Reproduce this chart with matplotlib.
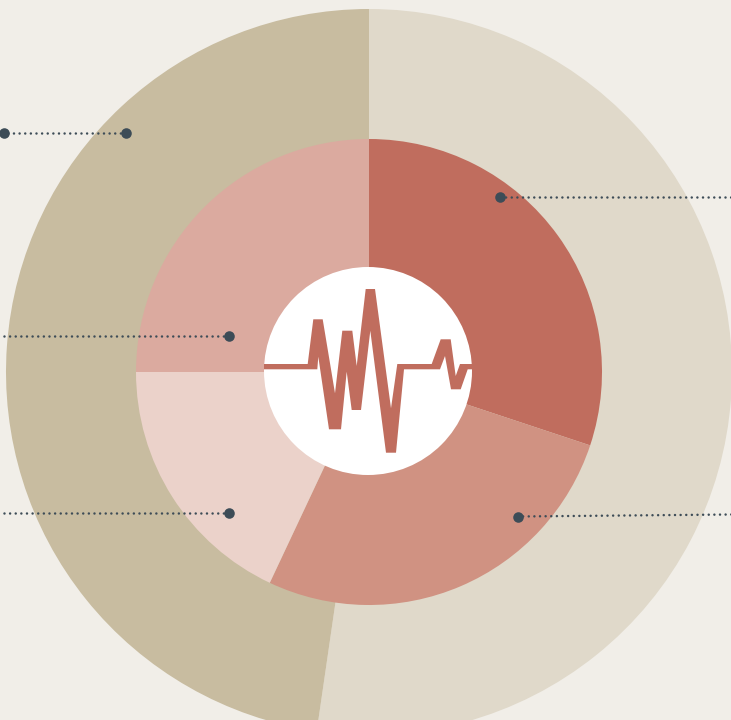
import matplotlib
matplotlib.use("Agg")
import matplotlib.pyplot as plt
from matplotlib.patches import Circle, Polygon

# shares, clockwise from 12 o'clock
outer_values = [52.3, 47.7]
outer_colors = ["#E0D9CA", "#C8BCA0"]
inner_values = [30.1, 26.9, 18.0, 25.0]
inner_colors = ["#C06D5E", "#D09282", "#EBD2CA", "#DBAA9F"]

# leader lines in image pixels: x0, y0, x1, y1
leader_x0 = [125.5, 228.5, 228.5, 499.5, 517.5]
leader_y0 = [132.5, 335.5, 513, 196.5, 516.5]
leader_x1 = [3.5, -12, -12, 741, 741]
leader_y1 = [132.5, 335.5, 513, 196.5, 514.4]
leader_end_dot = [True, False, False, False, False]

# heartbeat outline
pulse_x = [264, 307.7, 313.3, 322.7, 335, 342.3, 352.3, 356.7, 365.7, 375, 391, 397.3,
           431.7, 440.7, 450.7, 455.7, 460, 472.3, 472.3, 467.7, 460.7, 451, 445,
           440, 404, 396, 386, 370.3, 361, 351.7, 346.7, 341, 329, 318.3, 317.3, 264]
pulse_y = [364, 364, 319.3, 319.3, 393.3, 330.7, 330.7, 366, 289, 289, 408.3, 364,
           364, 339.3, 339.3, 376, 364, 364, 369.3, 369.3, 389.3, 389.3, 356,
           369.3, 369.3, 452.7, 452.7, 330.7, 410, 410, 371.7, 429.3, 429.3, 356.7, 369.3, 369.3]

CENTER = (369, 372)
HOLE_CENTER = (368, 371)
R_OUTER, R_MID, R_HOLE = 363, 233, 104
DOT = "#3D4C57"

fig = plt.figure(figsize=(7.31, 7.20), dpi=100, facecolor="#F1EEE8")
ax = fig.add_axes([0, 0, 1, 1])

# y axis runs downwards below, so counterclock here reads clockwise on screen
ax.pie(outer_values, colors=outer_colors, center=CENTER, radius=R_OUTER,
       startangle=270, counterclock=True, wedgeprops={"linewidth": 0})
ax.pie(inner_values, colors=inner_colors, center=CENTER, radius=R_MID,
       startangle=270, counterclock=True, wedgeprops={"linewidth": 0})
ax.add_patch(Circle(HOLE_CENTER, R_HOLE, facecolor="white", edgecolor="none"))
ax.add_patch(Polygon(list(zip(pulse_x, pulse_y)), closed=True, facecolor="#C06D5E", edgecolor="none"))

for x0, y0, x1, y1, end_dot in zip(leader_x0, leader_y0, leader_x1, leader_y1, leader_end_dot):
    ax.plot([x0, x1], [y0, y1], color=DOT, lw=1.8, linestyle=(0, (0.01, 2.24)), dash_capstyle="round")
    ax.plot([x0], [y0], "o", color=DOT, ms=7.6, mew=0)
    if end_dot:
        ax.plot([x1], [y1], "o", color=DOT, ms=7.6, mew=0)

ax.set_xlim(0, 731)
ax.set_ylim(720, 0)
ax.set_aspect("equal")
ax.axis("off")
fig.savefig("out.png", dpi=100, facecolor=fig.get_facecolor())
